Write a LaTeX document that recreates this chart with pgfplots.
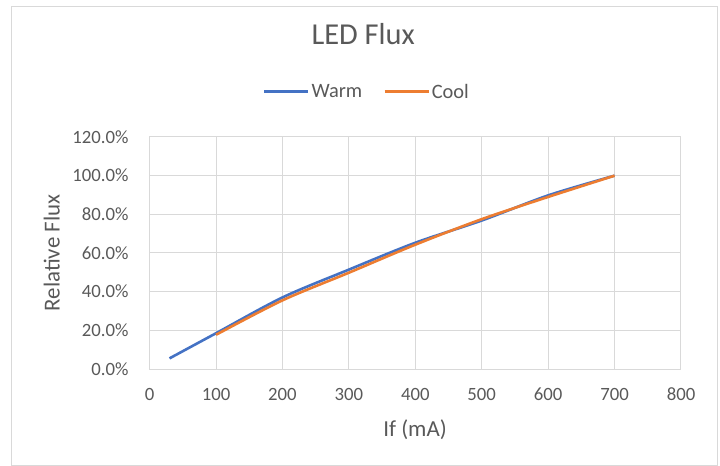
\documentclass[border=0pt]{standalone}
\usepackage{pgfplots}
\pgfplotsset{compat=1.18}
\usepackage{fontspec}
\setmainfont{Carlito}
\definecolor{txt}{HTML}{595959}
\definecolor{gridc}{HTML}{D9D9D9}
\definecolor{warm}{HTML}{4472C4}
\definecolor{cool}{HTML}{ED7D31}
\begin{document}
\begin{tikzpicture}
\begin{axis}[
  at={(0,0)}, anchor=south west,
  scale only axis, width=531.4bp, height=232bp,
  xmin=0, xmax=800, ymin=0, ymax=120,
  xtick={0,100,...,800}, ytick={0,20,...,120},
  /pgf/number format/assume math mode=true,
  yticklabel={\pgfmathprintnumber[fixed,fixed zerofill,precision=1]{\tick}\%},
  grid=major, major grid style={gridc, line width=1bp},
  axis line style={gridc, line width=1bp},
  major tick length=0pt,
  tick label style={font=\fontsize{18.8}{21}\selectfont, text=txt, inner sep=0pt},
  yticklabel style={anchor=east, xshift=-21bp},
  xticklabel style={anchor=north, yshift=-19bp},
  title={LED Flux},
  title style={at={(0.402,1.418)}, anchor=center, font=\fontsize{30.5}{33}\selectfont, text=txt},
  xlabel={If (mA)},
  xlabel style={at={(0.4995,-0.263)}, anchor=center, font=\fontsize{23}{26}\selectfont, text=txt},
  ylabel={Relative Flux},
  ylabel style={at={(-0.184,0.5)}, anchor=center, font=\fontsize{23}{26}\selectfont, text=txt},
  legend columns=2,
  legend style={at={(0.409,1.195)}, anchor=center, draw=none, fill=none,
    font=\fontsize{20.5}{23}\selectfont, text=txt,
    /tikz/every even column/.append style={column sep=19bp}},
  legend image code/.code={\draw[#1] (0bp,0bp) -- (44bp,0bp);},
]
\addplot[warm, line width=2.6bp, smooth] coordinates {
  (30,5.5) (100,18.5) (200,37.0) (300,51.4) (400,65.3) (500,76.8) (600,89.8) (700,100.0)
};
\addlegendentry{Warm}
\addplot[cool, line width=2.6bp, smooth] coordinates {
  (100,17.7) (200,35.5) (300,49.8) (400,64.3) (500,77.5) (600,89.0) (700,100.0)
};
\addlegendentry{Cool}
\end{axis}
\pgfresetboundingbox
\path[use as bounding box] (-149.6bp,-97bp) rectangle ++(720bp,466bp);
\draw[gridc, line width=1bp] (-138.1bp,-96bp) rectangle (567.9bp,362.5bp);
\end{tikzpicture}
\end{document}
